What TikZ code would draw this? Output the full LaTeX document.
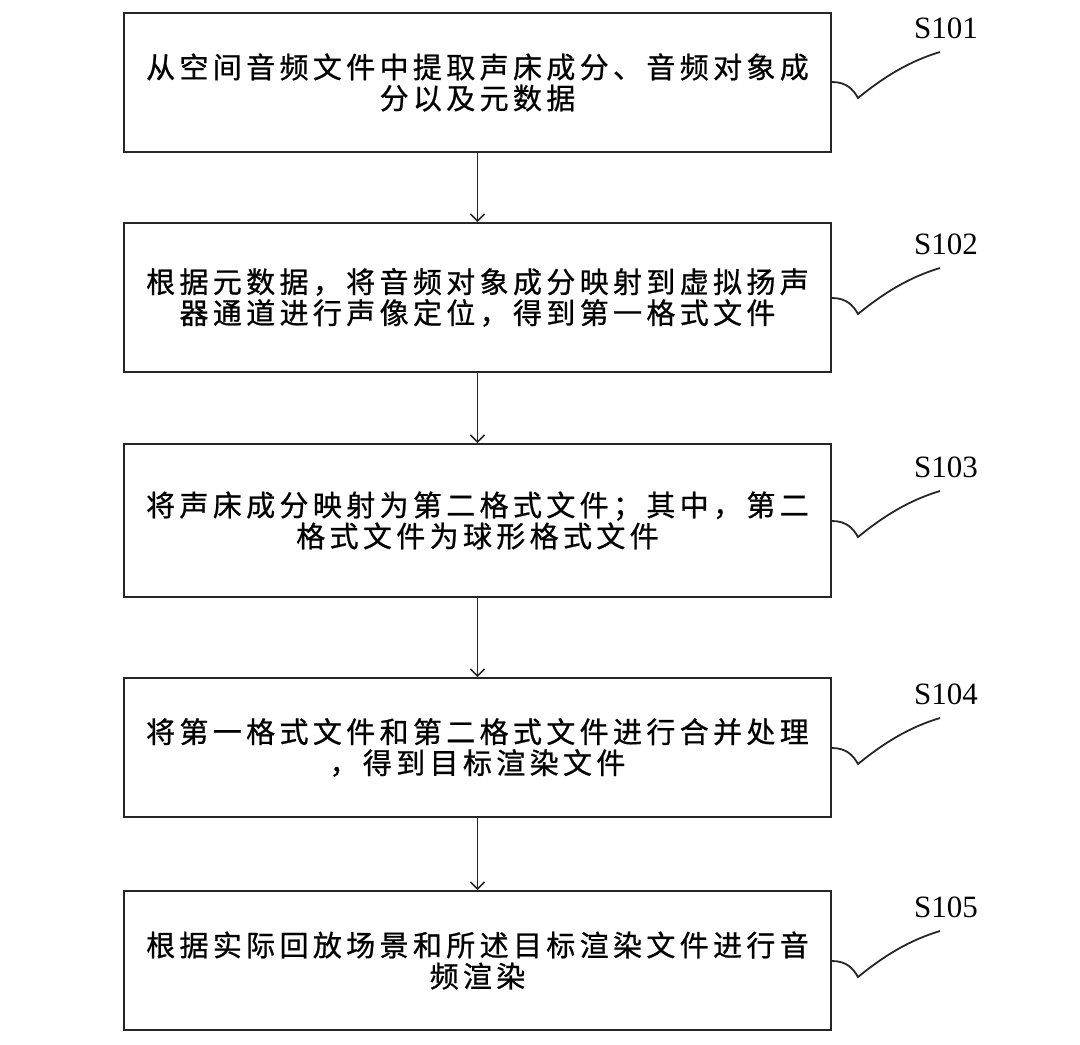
\documentclass[tikz,border=0pt]{standalone}
\usepackage{fontspec}
\setmainfont{Liberation Serif}
\newfontfamily\cjk{Noto Sans CJK SC}[LetterSpace=15, FakeBold=0.8]
\usetikzlibrary{arrows.meta}
\tikzset{
  stepbox/.style={draw=black!85, line width=2pt, minimum width=707pt, inner sep=0pt,
    align=center, font=\cjk\fontsize{29}{31}\selectfont},
  flow/.style={draw=black!85, line width=1.5pt, -{Straight Barb[length=7pt,width=14pt,line width=1.5pt]}},
  leader/.style={draw=black!85, line width=1.8pt},
  steplabel/.style={font=\fontsize{31}{31}\selectfont, inner sep=0pt}
}
\begin{document}
\begin{tikzpicture}[x=1pt,y=-1pt]
\useasboundingbox (0,0) rectangle (1080,1045);
\node[stepbox, minimum height=139pt] (b1) at (477.5,82.5) {从空间音频文件中提取声床成分、音频对象成\\分以及元数据};
\node[stepbox, minimum height=149pt] (b2) at (477.5,297.5) {根据元数据，将音频对象成分映射到虚拟扬声\\器通道进行声像定位，得到第一格式文件};
\node[stepbox, minimum height=153pt] (b3) at (477.5,520.5) {将声床成分映射为第二格式文件；其中，第二\\格式文件为球形格式文件};
\node[stepbox, minimum height=139pt] (b4) at (477.5,747.5) {将第一格式文件和第二格式文件进行合并处理\\，得到目标渲染文件};
\node[stepbox, minimum height=139pt] (b5) at (477.5,960.5) {根据实际回放场景和所述目标渲染文件进行音\\频渲染};
\draw[flow] (b1) -- (b2);
\draw[flow] (b2) -- (b3);
\draw[flow] (b3) -- (b4);
\draw[flow] (b4) -- (b5);
\foreach \b/\lab/\cy in {b1/S101/82, b2/S102/298, b3/S103/521, b4/S104/748, b5/S105/961}{
  \node[steplabel] (\b l) at (946,\cy-54) {\lab};
  \coordinate (\b e) at (940,\cy-30);
  \coordinate (\b d) at (858,\cy+16);
  \draw[leader] (\b.east |- 0,\cy) .. controls (846,\cy) and (853,\cy+7) .. (\b d)
     .. controls (885,\cy-6) and (910,\cy-21) .. (\b e);
}
\end{tikzpicture}
\end{document}
